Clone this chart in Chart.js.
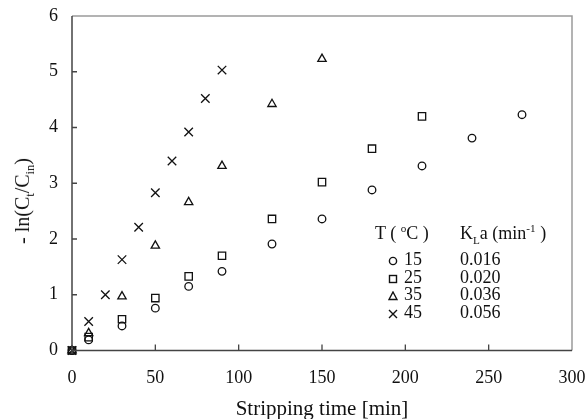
<!DOCTYPE html>
<html>
<head>
<meta charset="utf-8">
<script src="https://cdn.jsdelivr.net/npm/chart.js@4"></script>
<style>
  html, body { margin:0; padding:0; background:#fff; }
  #wrap { position:relative; width:587px; height:419px; font-family:"Liberation Serif","DejaVu Serif",serif; color:#111; overflow:hidden; }
  #c { position:absolute; left:0; top:0; }
  .lbl { position:absolute; white-space:nowrap; line-height:1; }
  sub, sup { font-size:0.62em; line-height:0; }
  .row { position:absolute; font-size:18px; white-space:nowrap; line-height:1; }
  .row svg { vertical-align:-1px; margin-right:6px; }
</style>
</head>
<body>
<div id="wrap">
  <canvas id="c" width="587" height="419"></canvas>
  <div class="lbl" id="ytitle" style="font-size:20px; left:22px; top:201px; transform:translate(-50%,-50%) rotate(-90deg);">- ln(C<sub>t</sub>/C<sub>in</sub>)</div>
  <div class="lbl" id="xtitle" style="font-size:21px; left:322px; top:408px; transform:translate(-50%,-50%);">Stripping time [min]</div>
  <div class="lbl" style="font-size:18px; left:375px; top:224px;">T ( <sup>o</sup>C )</div>
  <div class="lbl" style="font-size:18px; left:460px; top:224px;">K<sub>L</sub>a (min<sup>-1</sup> )</div>
  <div id="legrows"></div>
</div>
<script>
// ---- data ----
const timeCircle = [0, 10, 30, 50, 70, 90, 120, 150, 180, 210, 240, 270];
const valCircle  = [0, 0.19, 0.44, 0.76, 1.15, 1.42, 1.91, 2.36, 2.88, 3.31, 3.81, 4.23];
const timeSquare = [0, 10, 30, 50, 70, 90, 120, 150, 180, 210];
const valSquare  = [0, 0.24, 0.56, 0.94, 1.33, 1.70, 2.36, 3.02, 3.62, 4.20];
const timeTri    = [0, 10, 30, 50, 70, 90, 120, 150];
const valTri     = [0, 0.31, 0.97, 1.88, 2.66, 3.31, 4.42, 5.23];
const timeCross  = [0, 10, 20, 30, 40, 50, 60, 70, 80, 90];
const valCross   = [0, 0.52, 1.00, 1.63, 2.21, 2.83, 3.40, 3.92, 4.52, 5.03];
const legendTemps = ["15", "25", "35", "45"];
const legendKLa   = ["0.016", "0.020", "0.036", "0.056"];
const xTicks = [0, 50, 100, 150, 200, 250, 300];
const yTicks = [0, 1, 2, 3, 4, 5, 6];

function pts(xs, ys) { return xs.map((x, i) => ({x: x, y: ys[i]})); }

const frame = {
  id: 'frame',
  afterDatasetsDraw(chart) {
    const ctx = chart.ctx;
    const xs = chart.scales.x, ys = chart.scales.y;
    const L = xs.getPixelForValue(xTicks[0]), R = xs.getPixelForValue(xTicks[xTicks.length - 1]);
    const B = ys.getPixelForValue(yTicks[0]), T = ys.getPixelForValue(yTicks[yTicks.length - 1]);
    ctx.save();
    ctx.lineWidth = 1.5;
    ctx.strokeStyle = '#9a9a9a';
    ctx.beginPath();
    ctx.moveTo(L, T); ctx.lineTo(R, T); ctx.lineTo(R, B);
    ctx.stroke();
    ctx.strokeStyle = '#444';
    ctx.beginPath();
    ctx.moveTo(L, T); ctx.lineTo(L, B); ctx.lineTo(R, B);
    ctx.stroke();
    ctx.lineWidth = 1.3;
    ctx.beginPath();
    xTicks.slice(1, -1).forEach(v => {
      const px = xs.getPixelForValue(v);
      ctx.moveTo(px, B); ctx.lineTo(px, B - 6);
    });
    yTicks.slice(1, -1).forEach(v => {
      const py = ys.getPixelForValue(v);
      ctx.moveTo(L, py); ctx.lineTo(L + 5, py);
    });
    ctx.stroke();
    ctx.restore();
  }
};

const common = { showLine:false, borderColor:'#111', backgroundColor:'rgba(0,0,0,0)', borderWidth:1.3, clip:false };
const font = { family:'"Liberation Serif", serif', size:18 };

new Chart(document.getElementById('c'), {
  type: 'scatter',
  data: {
    datasets: [
      Object.assign({ label:'15', data: pts(timeCircle, valCircle), pointStyle:'circle', pointRadius:3.8 }, common),
      Object.assign({ label:'25', data: pts(timeSquare, valSquare), pointStyle:'rect', pointRadius:5.2 }, common),
      Object.assign({ label:'35', data: pts(timeTri, valTri), pointStyle:'triangle', pointRadius:4.8 }, common),
      Object.assign({ label:'45', data: pts(timeCross, valCross), pointStyle:'crossRot', pointRadius:6 }, common)
    ]
  },
  options: {
    responsive:false,
    animation:false,
    events: [],
    layout: { autoPadding:false, padding: { top:16, right:15, left:0, bottom:0 } },
    plugins: { legend:{display:false}, tooltip:{enabled:false} },
    scales: {
      x: {
        type:'linear', min:0, max:300,
        afterBuildTicks(s) { s.ticks = xTicks.map(v => ({value:v})); },
        afterFit(s) { s.height = 68.5; s.paddingLeft = 0; s.paddingRight = 0; },
        grid: { display:false, drawTicks:false },
        border: { display:false },
        ticks: { color:'#111', font: font, padding:17, maxRotation:0 }
      },
      y: {
        type:'linear', min:0, max:6,
        afterBuildTicks(s) { s.ticks = yTicks.map(v => ({value:v})); },
        afterFit(s) { s.width = 72; s.paddingTop = 0; s.paddingBottom = 0; },
        grid: { display:false, drawTicks:false },
        border: { display:false },
        ticks: { color:'#111', font: font, padding:14 }
      }
    }
  },
  plugins: [frame]
});

// legend rows
const syms = [
  '<svg width="10" height="10"><circle cx="5" cy="5" r="3.6" fill="none" stroke="#111" stroke-width="1.4"/></svg>',
  '<svg width="10" height="10"><rect x="1.5" y="1.5" width="7" height="7" fill="none" stroke="#111" stroke-width="1.4"/></svg>',
  '<svg width="10" height="10"><polygon points="5,1 9,8.5 1,8.5" fill="none" stroke="#111" stroke-width="1.4"/></svg>',
  '<svg width="10" height="10"><path d="M1,1 L9,9 M9,1 L1,9" stroke="#111" stroke-width="1.4"/></svg>'
];
const rows = document.getElementById('legrows');
const rowTop = [250, 267.5, 285, 302.5];
legendTemps.forEach((t, i) => {
  const d = document.createElement('div');
  d.className = 'row';
  d.style.left = '388px';
  d.style.top = rowTop[i] + 'px';
  d.innerHTML = syms[i] + t;
  rows.appendChild(d);
  const v = document.createElement('div');
  v.className = 'row';
  v.style.left = '460px';
  v.style.top = rowTop[i] + 'px';
  v.textContent = legendKLa[i];
  rows.appendChild(v);
});
</script>
</body>
</html>
